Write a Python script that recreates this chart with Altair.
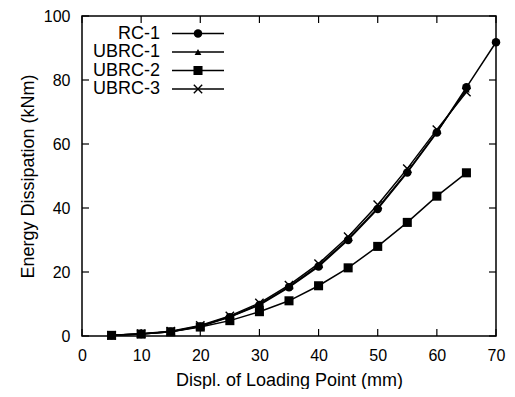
import altair as alt
import pandas as pd

# ---- data ----
displ = [5, 10, 15, 20, 25, 30, 35, 40, 45, 50, 55, 60, 65, 70]
rc1 = [0.2, 0.6, 1.3, 3.0, 5.9, 9.7, 15.2, 21.7, 30.0, 39.7, 51.1, 63.6, 77.7, 91.8]
ubrc1 = [0.2, 0.6, 1.3, 3.1, 6.0, 9.9, 15.4, 22.0, 30.3, 40.0, 51.3, 63.8, 77.0]
ubrc2 = [0.2, 0.6, 1.3, 2.8, 4.8, 7.6, 11.0, 15.7, 21.3, 28.0, 35.5, 43.7, 51.0]
ubrc3 = [0.2, 0.7, 1.5, 3.3, 6.3, 10.3, 15.9, 22.6, 31.0, 41.0, 52.3, 64.5, 76.2]
series_names = ["RC-1", "UBRC-1", "UBRC-2", "UBRC-3"]
series_values = [rc1, ubrc1, ubrc2, ubrc3]
x_ticks = [0, 10, 20, 30, 40, 50, 60, 70]
y_ticks = [0, 20, 40, 60, 80, 100]

W, H = 414, 320
FONT = "Liberation Sans"
XPATH = "M-1,-1L1,1M-1,1L1,-1"
shapes = {"RC-1": "circle", "UBRC-1": "triangle-up", "UBRC-2": "square", "UBRC-3": XPATH}
sizes = {"RC-1": 72, "UBRC-1": 45, "UBRC-2": 82, "UBRC-3": 70}

rows = []
for name, vals in zip(series_names, series_values):
    for xv, yv in zip(displ, vals):
        rows.append({"series": name, "x": xv, "y": yv})
df = pd.DataFrame(rows)

xscale = alt.Scale(domain=[0, 70], nice=False, zero=False)
yscale = alt.Scale(domain=[0, 100], nice=False)
xaxis = alt.Axis(title="Displ. of Loading Point (mm)", values=x_ticks,
                 ticks=False, domain=False, grid=False, labelFlush=False,
                 labelPadding=11, titlePadding=8)
yaxis = alt.Axis(title="Energy Dissipation (kNm)", values=y_ticks,
                 ticks=False, domain=False, grid=False, labelFlush=False,
                 labelPadding=12, titlePadding=6)

def X(field):
    return alt.X(field, scale=xscale, axis=xaxis)

def Y(field):
    return alt.Y(field, scale=yscale, axis=yaxis)

base = alt.Chart(df)

lines = base.mark_line(color="black", strokeWidth=1.5).encode(
    x=X("x:Q"), y=Y("y:Q"), detail="series:N")

layers = [lines]
for name in series_names:
    sub = base.transform_filter(alt.datum.series == name)
    filled = name != "UBRC-3"
    layers.append(
        sub.mark_point(shape=shapes[name], size=sizes[name], filled=filled,
                       color="black", opacity=1,
                       strokeWidth=1.4 if not filled else 0.5).encode(
            x=X("x:Q"), y=Y("y:Q"))
    )

# inward ticks on all four sides
tick_len = 7
xt = alt.Chart(pd.DataFrame({"x": x_ticks}))
yt = alt.Chart(pd.DataFrame({"y": y_ticks}))
layers.append(xt.mark_rule(color="black", strokeWidth=1.2).encode(
    x=X("x:Q"), y=alt.value(H), y2=alt.value(H - tick_len)))
layers.append(xt.mark_rule(color="black", strokeWidth=1.2).encode(
    x=X("x:Q"), y=alt.value(0), y2=alt.value(tick_len)))
layers.append(yt.mark_rule(color="black", strokeWidth=1.2).encode(
    y=Y("y:Q"), x=alt.value(0), x2=alt.value(tick_len)))
layers.append(yt.mark_rule(color="black", strokeWidth=1.2).encode(
    y=Y("y:Q"), x=alt.value(W), x2=alt.value(W - tick_len)))

# custom legend (labels left, sample right)
leg_rows = [17.5, 36, 54.5, 73]
dummy = alt.Chart(pd.DataFrame({"a": [0]}))
for name, ry in zip(series_names, leg_rows):
    filled = name != "UBRC-3"
    layers.append(dummy.mark_text(text=name, align="right", baseline="middle",
                                  font=FONT, fontSize=18, color="black").encode(
        x=alt.value(78), y=alt.value(ry)))
    layers.append(dummy.mark_rule(color="black", strokeWidth=1.5).encode(
        x=alt.value(90), x2=alt.value(142), y=alt.value(ry)))
    layers.append(dummy.mark_point(shape=shapes[name], size=sizes[name], filled=filled,
                                   color="black", opacity=1,
                                   strokeWidth=1.4 if not filled else 0.5).encode(
        x=alt.value(116), y=alt.value(ry)))

chart = alt.layer(*layers).properties(
    width=W, height=H,
    autosize=alt.AutoSizeParams(type="none"),
    padding={"left": 74, "top": 8, "right": 11, "bottom": 53},
    background="white",
).configure_view(stroke="black", strokeWidth=1.5).configure_axis(
    labelFont=FONT, titleFont=FONT, labelFontSize=16, titleFontSize=18,
    labelColor="black", titleColor="black", titleFontWeight="normal",
)

chart.save("out.html", embed_options={"renderer": "svg", "actions": False})
